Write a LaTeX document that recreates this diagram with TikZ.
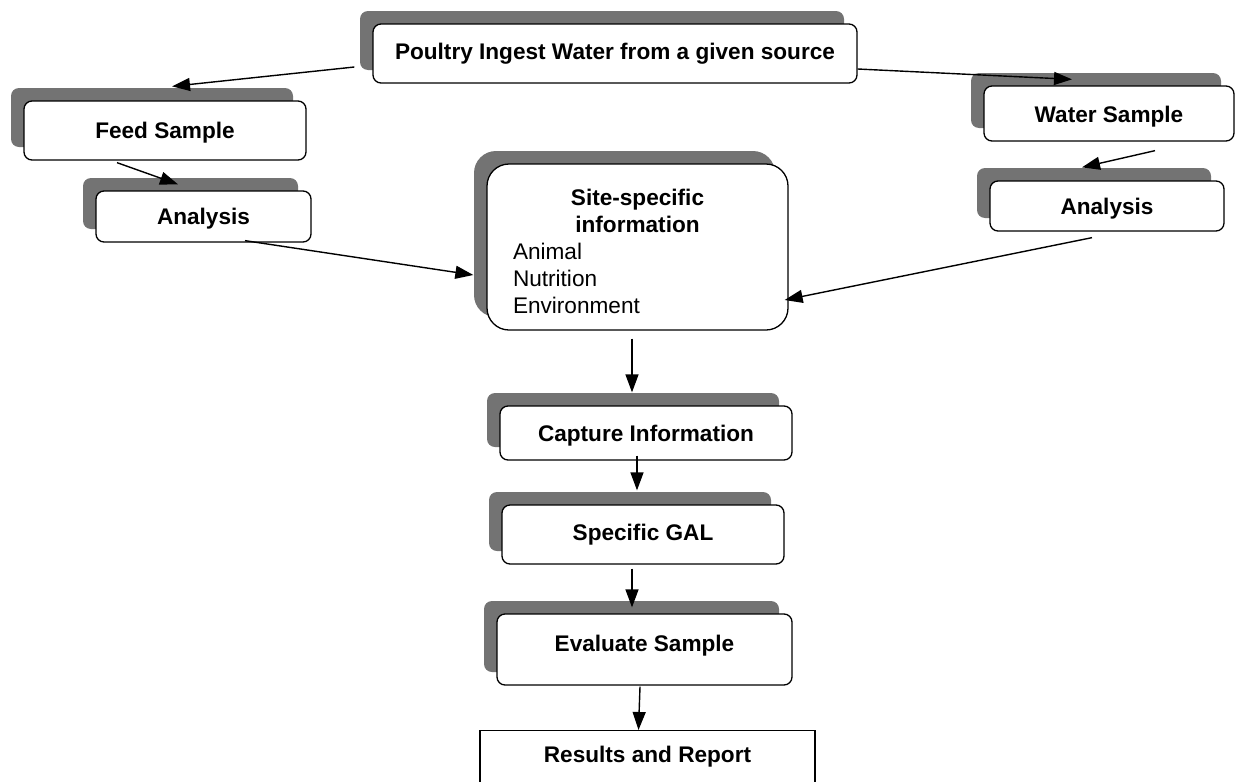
\documentclass[tikz,border=0pt]{standalone}
\usepackage{fontspec}
\setmainfont{Liberation Sans}
\usetikzlibrary{shadows,arrows.meta,calc}
\newcommand{\boxfont}{\fontsize{22.6}{27}\selectfont}
\newcommand{\shiftdown}[2]{\raisebox{-#1}[\height][\depth]{#2}}
\tikzset{shadowbox/.style={draw=black,line width=1.3pt,fill=white,rounded corners=#1,inner sep=0pt,font=\boxfont\bfseries,general shadow={fill=black!55,shadow xshift=-13pt,shadow yshift=13pt}},shadowbox/.default=8pt}
\tikzset{plainbox/.style={draw=black,line width=1.3pt,fill=white,inner sep=0pt,font=\boxfont\bfseries}}
\tikzset{link/.style={line width=1.4pt,-{Triangle[length=18pt,width=13pt]}}}

\begin{document}
\begin{tikzpicture}[x=1pt,y=-1pt]
	\useasboundingbox (0,0) rectangle (1240,782);

	\node [shadowbox,minimum width=484pt,minimum height=59pt] (poultry) at (615,53.5) {Poultry Ingest Water from a given source};
	\node [shadowbox,minimum width=282pt,minimum height=59pt] (feed) at (165,130.5) {\shiftdown{2pt}{Feed Sample}};
	\node [shadowbox,minimum width=215pt,minimum height=51pt] (analysisL) at (203.5,216.5) {\shiftdown{2pt}{Analysis}};
	\node [shadowbox,minimum width=250pt,minimum height=55pt] (water) at (1109,113.5) {\shiftdown{3pt}{Water Sample}};
	\node [shadowbox,minimum width=234pt,minimum height=50pt] (analysisR) at (1107,206) {\shiftdown{3pt}{Analysis}};
	\node [shadowbox=22pt,minimum width=301pt,minimum height=166pt] (site) at (637.5,247)
		{\shiftdown{4pt}{\parbox{249pt}{{\centering Site-specific\\information\par}\raggedright\mdseries Animal\\Nutrition\\Environment}}};
	\node [shadowbox,minimum width=292pt,minimum height=54pt] (capture) at (646,433) {\shiftdown{3pt}{Capture Information}};
	\node [shadowbox,minimum width=282pt,minimum height=59pt] (gal) at (643,534.5) {Specific GAL};
	\node [shadowbox,minimum width=295pt,minimum height=71pt] (evaluate) at (644.5,649.5) {\shiftdown{-4pt}{Evaluate Sample}};
	\node [plainbox,minimum width=335pt,minimum height=60pt,anchor=north] (results) at (647.5,730) {\shiftdown{-4pt}{Results and Report}};

	\draw [link] ($(poultry.west)+(-18,13.5)$) -- ($(feed.north)+(7,-14)$);
	\draw [link] ($(poultry.east)+(0,15.5)$) -- ($(water.north)+(-37,-6)$);
	\draw [link] ($(feed.south)+(-48,2)$) -- ($(analysisL.north)+(-25.5,-6)$);
	\draw [link] ($(analysisL.south)+(41.5,-2)$) -- ($(site.west)+(-13,28)$);
	\draw [link] ($(water.south)+(46,9)$) -- ($(analysisR.north)+(-25,-13)$);
	\draw [link] ($(analysisR.south)+(-15,6)$) -- ($(site.east)+(-4,53)$);
	\draw [link] ($(site.south)+(-5.5,8)$) -- ($(capture.north)+(-14,-13)$);
	\draw [link] ($(capture.south)+(-9,-5)$) -- ($(gal.north)+(-6,-14)$);
	\draw [link] ($(gal.south)+(-11,4)$) -- ($(evaluate.north)+(-12.5,-6)$);
	\draw [link] ($(evaluate.south)+(-4.5,1)$) -- ($(results.north)+(-9,0)$);
\end{tikzpicture}
\end{document}
